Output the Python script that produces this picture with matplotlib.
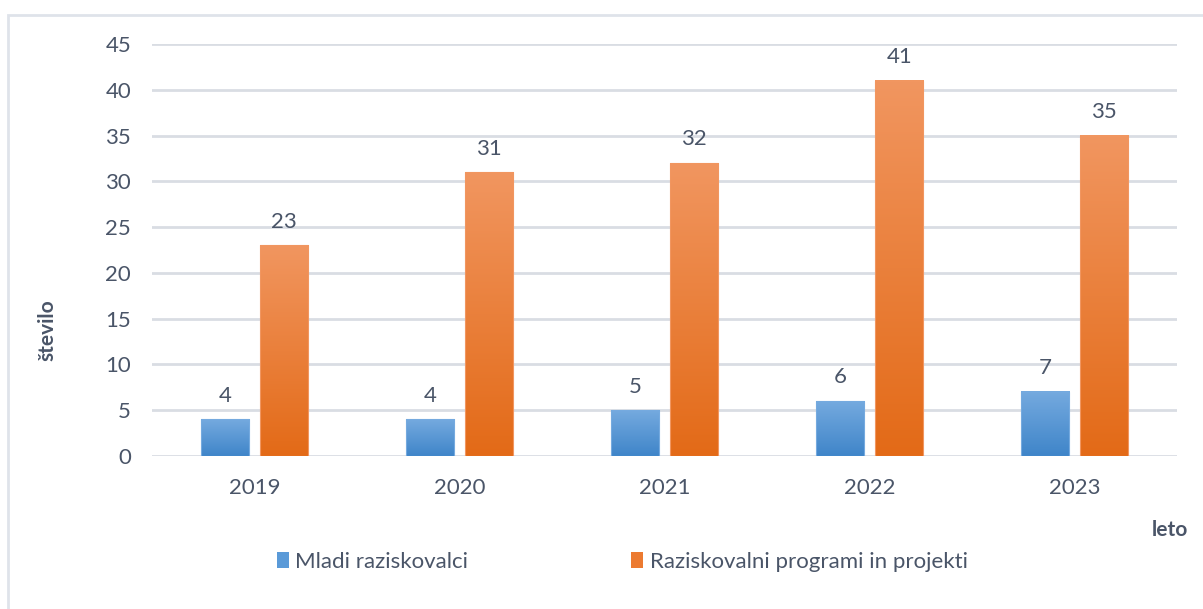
import numpy as np
import matplotlib.pyplot as plt
from matplotlib.colors import LinearSegmentedColormap
from matplotlib.patches import Rectangle, Patch

# data
years = ['2019', '2020', '2021', '2022', '2023']
mladi = [4, 4, 5, 6, 7]
programi = [23, 31, 32, 41, 35]

series_names = ['Mladi raziskovalci', 'Raziskovalni programi in projekti']

text_col = '#4a5568'
grid_col = '#d9dde3'
blue_top, blue_bot = '#75aadf', '#3f85c9'
orange_top, orange_bot = '#f19660', '#e36a17'

plt.rcParams['font.family'] = ['Lato', 'DejaVu Sans']

fig = plt.figure(figsize=(12.03, 6.09), dpi=100)
W, H = 1203, 609
ax = fig.add_axes([152 / W, (H - 456) / H, (1177 - 152) / W, (456 - 44) / H])

x = np.arange(len(years))
bw = 0.235
off = 0.145


def grad_bars(xpos, vals, top, bot):
    cmap = LinearSegmentedColormap.from_list('g', [bot, top])
    grad = np.linspace(0, 1, 256).reshape(-1, 1)
    bars = ax.bar(xpos, vals, bw, color='none', edgecolor='none', zorder=3)
    for b in bars:
        x0, y0 = b.get_x(), b.get_y()
        w, h = b.get_width(), b.get_height()
        ax.imshow(grad, cmap=cmap, origin='lower', aspect='auto',
                  extent=[x0, x0 + w, y0, y0 + h], zorder=3)
        ax.add_patch(Rectangle((x0, y0), w, h, fill=False,
                               edgecolor=top, linewidth=0.8, zorder=4))
    return bars


b1 = grad_bars(x - off, mladi, blue_top, blue_bot)
b2 = grad_bars(x + off, programi, orange_top, orange_bot)

for bars, vals in ((b1, mladi), (b2, programi)):
    for b, v in zip(bars, vals):
        ax.annotate(str(v), (b.get_x() + b.get_width() / 2, v),
                    xytext=(0, 17), textcoords='offset points',
                    ha='center', va='center', fontsize=16, color=text_col)

ax.set_xlim(-0.5, len(years) - 0.5)
ax.set_ylim(0, 45)
ax.set_yticks(range(0, 46, 5))
ax.set_xticks(x)
ax.set_xticklabels(years)
ax.tick_params(length=0, labelsize=16, colors=text_col)
ax.tick_params(axis='x', pad=16)
ax.tick_params(axis='y', pad=15)
ax.grid(axis='y', color=grid_col, linewidth=2)
ax.set_axisbelow(True)
for s in ax.spines.values():
    s.set_visible(False)

fig.text(47 / W, 1 - 330 / H, 'število', rotation=90, ha='center', va='center',
         fontsize=15, fontweight='bold', color=text_col)
fig.text(1170 / W, 1 - 530 / H, 'leto', ha='center', va='center',
         fontsize=15, fontweight='bold', color=text_col)

handles = [Patch(facecolor='#5a9ad8'), Patch(facecolor='#ec7a30')]
fig.legend(handles, series_names, loc='center', bbox_to_anchor=(622 / W, 1 - 562 / H),
           ncol=2, frameon=False, fontsize=16, labelcolor=text_col,
           handlelength=0.55, handleheight=0.75, handletextpad=0.3, columnspacing=7.3)

# light frame around the chart, cut off at right and bottom
fig.add_artist(Rectangle((8 / W, -0.1), 1.2, 1 - 15 / H + 0.1, transform=fig.transFigure,
                         fill=False, edgecolor='#dfe3ea', linewidth=2))

fig.savefig('out.png', dpi=100)
